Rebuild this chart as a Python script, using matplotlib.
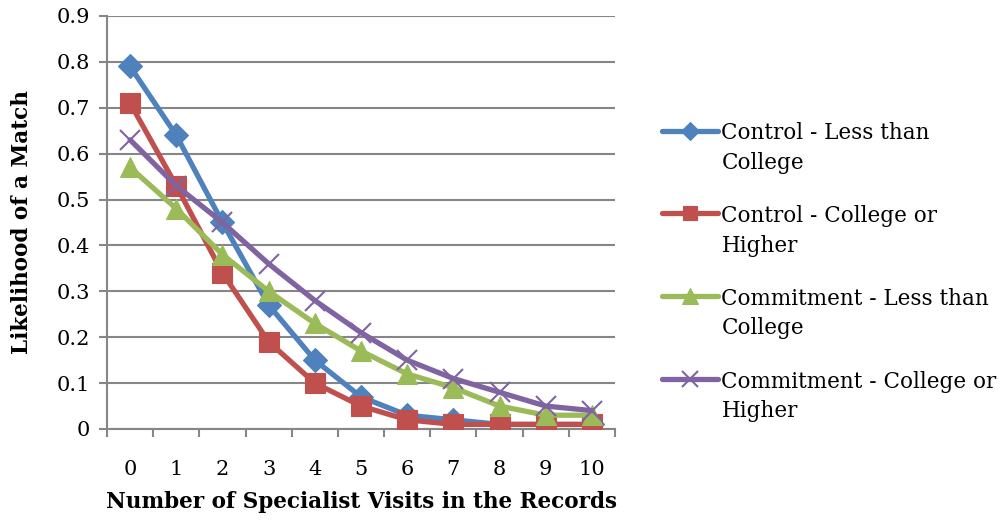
import matplotlib
matplotlib.use("Agg")
import matplotlib.pyplot as plt

visits = [0, 1, 2, 3, 4, 5, 6, 7, 8, 9, 10]
control_less = [0.79, 0.64, 0.45, 0.27, 0.15, 0.07, 0.03, 0.02, 0.01, 0.01, 0.01]
control_college = [0.71, 0.53, 0.34, 0.19, 0.10, 0.05, 0.02, 0.01, 0.01, 0.01, 0.01]
commit_less = [0.57, 0.48, 0.38, 0.30, 0.23, 0.17, 0.12, 0.09, 0.05, 0.03, 0.03]
commit_college = [0.63, 0.53, 0.45, 0.36, 0.28, 0.21, 0.15, 0.11, 0.08, 0.05, 0.04]

series_labels = ["Control - Less than\nCollege", "Control - College or\nHigher",
                 "Commitment - Less than\nCollege", "Commitment - College or\nHigher"]
colors = ["#4F81BD", "#C0504D", "#9BBB59", "#8064A2"]
markers = ["D", "s", "^", "x"]
msizes = [12, 14, 15, 15]

plt.rcParams["font.family"] = ["DejaVu Serif"]

fig = plt.figure(figsize=(10.08, 5.21), dpi=100)
ax = fig.add_axes([0.1062, 0.1766, 0.5039, 0.7927])

pos = list(range(len(visits)))
for vals, lab, c, m, ms in zip([control_less, control_college, commit_less, commit_college],
                               series_labels, colors, markers, msizes):
    ax.plot(pos, vals, color=c, lw=3.8, marker=m, markersize=ms,
            markerfacecolor=c, markeredgecolor=c,
            markeredgewidth=1.5 if m == "x" else 0.8, label=lab,
            solid_capstyle="round", zorder=3)

ax.set_xlim(-0.5, len(visits) - 0.5)
ax.set_ylim(0, 0.9)
ax.set_yticks([i / 10 for i in range(10)])
ax.set_yticklabels(["0"] + [f"{i/10:.1f}" for i in range(1, 10)])
ax.set_xticks(pos)
ax.set_xticklabels([str(v) for v in visits])
ax.set_xticks([p - 0.5 for p in range(len(visits) + 1)], minor=True)

ax.grid(axis="y", color="#868686", lw=1.5, zorder=0)
for s in ["top", "right"]:
    ax.spines[s].set_visible(False)
for s in ["left", "bottom"]:
    ax.spines[s].set_color("#868686")
    ax.spines[s].set_linewidth(1.5)

ax.tick_params(axis="x", which="major", length=0, labelsize=15, pad=22)
ax.tick_params(axis="x", which="minor", length=6, width=1.5, color="#868686")
ax.tick_params(axis="y", length=6, width=1.5, color="#868686", labelsize=15, pad=6)

ax.set_xlabel("Number of Specialist Visits in the Records", fontsize=15.5,
              fontweight="bold", labelpad=9)
ax.set_ylabel("Likelihood of a Match", fontsize=15.5, fontweight="bold", labelpad=17)

leg = ax.legend(loc="upper left", bbox_to_anchor=(1.055, 0.79), frameon=False,
                fontsize=15.5, handlelength=2.6, handletextpad=0.15,
                handleheight=1.0, labelspacing=1.45, markerscale=0.75)
for t in leg.get_texts():
    t.set_linespacing(1.45)
# put each legend line level with the first line of its two-line label
for column in leg._legend_handle_box.get_children():
    for item in column.get_children():
        item.align = "top"

fig.savefig("out.png", dpi=100)
